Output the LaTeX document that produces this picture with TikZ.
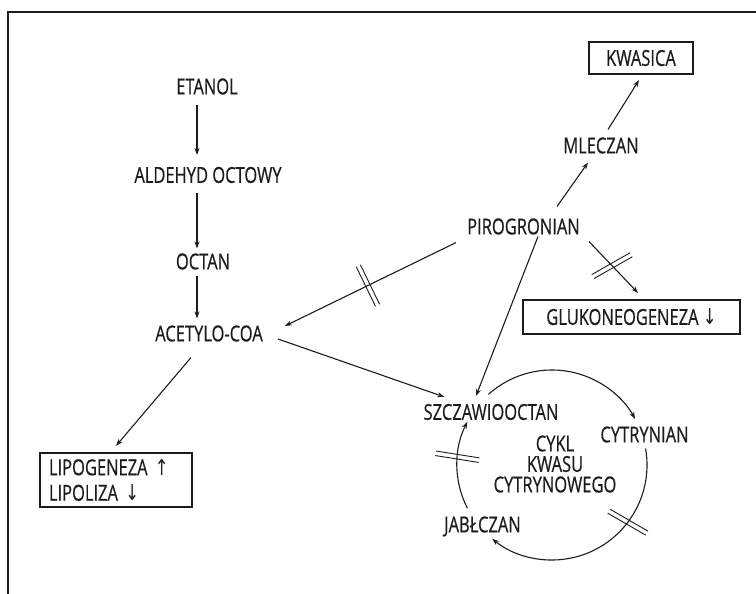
\documentclass[tikz,border=0pt]{standalone}
\usepackage{fontspec}
\setmainfont{Open Sans}[FakeStretch=0.75, FakeBold=0.5]
\newfontfamily\arrfont{DejaVu Sans}[FakeStretch=0.75]
\usetikzlibrary{arrows.meta,calc}
\definecolor{ink}{HTML}{1C1C1C}
\begin{document}
\begin{tikzpicture}[x=1pt,y=1pt,
  lab/.style={inner sep=0pt, text height=15.7pt, text depth=0pt,
    font=\fontsize{22}{26}\selectfont, text=ink},
  boxed/.style={lab, draw=ink, line width=2.2pt},
  conn/.style={draw=ink, line width=1.1pt, -{Stealth[length=7pt,width=5pt]}},
  bars/.pic={\draw[-, draw=ink, line width=0.9pt] (-2.3,-22)--(-2.3,22) (2.3,-22)--(2.3,22);}
]
\useasboundingbox (0,0) rectangle (756,-594);
% frame
\draw[ink, line width=1.2pt] (756,-12) -- (8,-12) -- (8,-594);

% nodes
\node[lab] (etanol)  at (207,-86.5)  {ETANOL};
\node[lab] (aldehyd) at (208,-175)   {ALDEHYD OCTOWY};
\node[lab] (octan)   at (203,-261.5) {OCTAN};
\node[lab] (acetylo) at (209,-333.5) {ACETYLO-COA};
\node[lab] (mleczan) at (601,-145.5) {MLECZAN};
\node[lab] (piro)    at (523.5,-226.5) {PIROGRONIAN};
\node[lab] (szczaw)  at (491,-412)   {SZCZAWIOOCTAN};
\node[lab] (cytr)    at (644.5,-434.5) {CYTRYNIAN};
\node[lab] (jabl)    at (482.5,-524.5) {JABŁCZAN};
\node[inner sep=0pt, align=center, font=\fontsize{22}{20.5}\selectfont, text=ink]
  (cykl) at (555,-464) {CYKL\\KWASU\\CYTRYNOWEGO};

\node[boxed, minimum width=104pt, minimum height=32pt] (kwasica) at (641,-58) {KWASICA};
\node[boxed, minimum width=217pt, minimum height=34pt] (gluko) at (631.5,-317)
  {GLUKONEOGENEZA {\arrfont ↓}};
\node[draw=ink, line width=2.2pt, inner xsep=9pt, inner ysep=0pt, text width=134pt,
  minimum height=54pt, align=left, font=\fontsize{22}{25.5}\selectfont, text=ink]
  (lipo) at (116,-480) {LIPOGENEZA {\arrfont ↑}\\LIPOLIZA {\arrfont ↓}};

% connectors
\draw[conn] ([shift={(-10,-10)}]etanol.south) -- ([shift={(-11,12)}]aldehyd.north);
\draw[conn] ([shift={(-11,-10)}]aldehyd.south) -- ([shift={(-6,5)}]octan.north);
\draw[conn] ([shift={(-6,-6)}]octan.south) -- ([shift={(-12,7)}]acetylo.north);
\draw[conn] ([shift={(-18,-16)}]acetylo.south) -- ([shift={(0,6)}]lipo.north);
\draw[conn] ([shift={(-11,-8)}]piro.south west) -- pic[pos=.515, sloped]{bars}
  ([shift={(22,7.5)}]acetylo.east);
\draw[conn] ([shift={(15,-5.5)}]acetylo.east) -- ([shift={(21,7)}]szczaw.north west);
\draw[conn] ([shift={(14.5,-2)}]piro.south) -- ([shift={(-15,8)}]szczaw.north);
\draw[conn] ([shift={(33.5,12)}]piro.north) -- ([shift={(-13,-9)}]mleczan.south);
\draw[conn] ([shift={(7,8)}]mleczan.north) -- ([shift={(-2,-5)}]kwasica.south);
\draw[conn] ([shift={(9,-7)}]piro.south east) -- pic[pos=.47, sloped, rotate=-14]{bars}
  ([shift={(6.5,6)}]gluko.north);

% cycle
\coordinate (cc) at (552,-465);
\draw[conn] ([shift={(132:95)}]cc) arc[start angle=132, end angle=29, radius=95];
\draw[conn] ([shift={(10:95)}]cc) arc[start angle=10, end angle=-129, radius=95];
\draw[conn] ([shift={(207:95)}]cc) arc[start angle=207, end angle=153, radius=95];
\pic[rotate=81] at ($(cc)+(175:95)$) {bars};
\pic[rotate=60] at ($(cc)+(-37:95)$) {bars};
\end{tikzpicture}
\end{document}
